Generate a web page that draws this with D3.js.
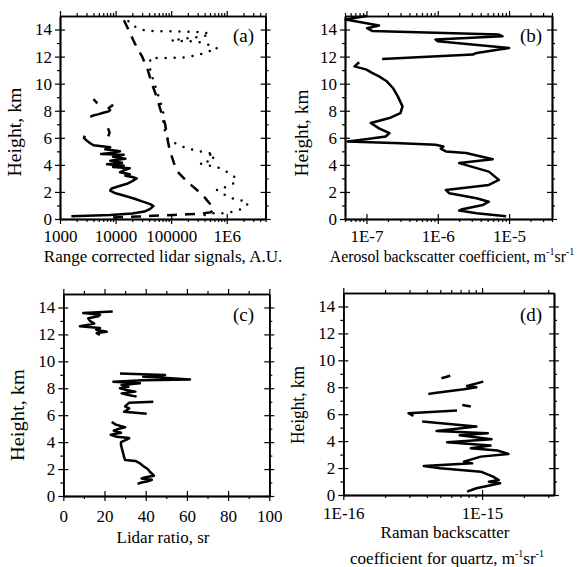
<!DOCTYPE html>
<html>
<head>
<meta charset="utf-8">
<script src="https://cdn.jsdelivr.net/npm/d3@7"></script>
<style>
body { margin: 0; background: #fff; }
svg { font-family: "Liberation Serif", "Times New Roman", serif; }
.frame path.domain { stroke: #000; stroke-width: 1.5; }
.frame .tick line { stroke: #000; stroke-width: 1.2; }
.curve { fill: none; stroke: #000; stroke-width: 2.5; stroke-linejoin: round; }
</style>
</head>
<body>
<svg id="chart" width="579" height="567"></svg>
<script>

// ---- data ----
var heightTicks = [0, 2, 4, 6, 8, 10, 12, 14];
var heightLabels = ["0", "2", "4", "6", "8", "10", "12", "14"];

// (a) range corrected lidar signals, A.U.
var aTicks = [1e3, 1e4, 1e5, 1e6];
var aTickLabels = ["1000", "10000", "100000", "1E6"];
var aSolidH = [0.2, 0.3, 0.4, 0.55, 0.75, 0.95, 1.1, 1.3, 1.5, 1.7, 1.9, 2.1, 2.25, 2.4, 2.6, 2.8, 3.0, 3.1, 3.2, 3.3, 3.45, 3.6, 3.75, 3.85, 3.95, 4.05, 4.15, 4.3, 4.45, 4.6, 4.75, 4.8, 4.9, 5.0, 5.15, 5.3, 5.45, 5.6, 5.8, 6.0, 6.15,
  6.15, 6.1, 6.4, 6.7,
  6.7, 7.55, 7.65, 7.75, 7.85, 7.95, 8.05, 8.2, 8.35, 8.45,
  8.45, 8.55, 8.85];
var aSolidV = [1600, 8000, 20000, 33000, 42000, 48000, 42000, 30000, 22000, 15000, 10000, 8000, 8500, 11000, 16000, 20000, 24000, 20000, 15000, 18000, 12000, 14000, 18000, 9000, 14000, 7000, 13000, 8000, 15000, 9000, 14000, 5500, 9000, 12000, 6500, 8000, 4000, 3500, 3000, 2700, 2800,
  null, 7400, 7800, 7300,
  null, 3500, 4000, 5000, 6000, 7500, 8000, 7500, 8500, 9000,
  null, 4700, 4000];
var aDashH = [0.12, 0.18, 0.25, 0.3, 0.35, 0.4, 0.5, 0.7, 0.9, 1.2, 1.6, 2.0, 2.5, 3.0, 3.5, 4.0, 4.5, 5.0, 6.0, 7.0, 8.0, 9.0, 10.0, 11.0, 12.0, 13.0, 14.0, 15.0];
var aDashV = [9000, 25000, 60000, 110000, 200000, 350000, 520000, 580000, 560000, 480000, 400000, 320000, 230000, 170000, 130000, 115000, 105000, 95000, 85000, 78000, 65000, 55000, 45000, 38000, 30000, 22000, 17000, 13000];
var aDotH = [0.3, 0.42, 0.42, 0.47, 0.6, 0.8, 1.16, 1.4, 1.53, 1.78, 2.15, 2.4, 2.64, 3.0, 3.4, 3.8, 4.1, 4.3, 4.5, 4.7, 4.8, 5.0, 5.2, 5.5, 5.8, 6.0, 7.0, 8.0, 9.0, 10.0, 11.0, 11.9, 11.9, 11.95, 12.2, 12.6, 12.9, 13.1, 13.2, 13.4, 13.6, 13.8, 13.87, 13.9, 14.3, 15.0];
var aDotV = [400000, 540000, 760000, 1.07e6, 1.5e6, 2.0e6, 2.45e6, 1.74e6, 1.23e6, 930000, 660000, 1.0e6, 1.32e6, 1.5e6, 1.1e6, 700000, 330000, 500000, 600000, 450000, 600000, 330000, 200000, 130000, 95000, 83000, 72000, 72000, 60000, 50000, 42000, 42000, 100000, 190000, 350000, 680000, 450000, 300000, 100000, 250000, 500000, 400000, 100000, 35000, 20000, 14000];

// (b) aerosol backscatter coefficient, 1/(m sr)
var bTicks = [1e-7, 1e-6, 1e-5];
var bTickLabels = ["1E-7", "1E-6", "1E-5"];
var bH = [0.2, 0.42, 0.62, 0.72, 1.04, 1.28, 1.53, 1.9, 2.15, 2.52, 2.89, 3.5, 4.13, 4.42, 4.87, 4.99, 5.2, 5.36, 5.48, 5.6, 5.73, 5.9, 6.1, 6.35, 6.7, 7.09, 7.46, 7.83, 8.32, 9.06, 9.68, 10.2, 10.54, 10.8, 11.04, 11.28, 11.58,
  11.7, 11.83, 12.15, 12.27, 12.64, 13.13, 13.26, 13.5, 13.63, 13.9, 14.1, 14.3, 14.74, 15.0];
var bV = [9.1e-6, 3.5e-6, 2.0e-6, 2.2e-6, 4.3e-6, 5.2e-6, 3.5e-6, 1.45e-6, 1.3e-6, 5.2e-6, 7.2e-6, 5.2e-6, 2.0e-6, 5.9e-6, 2.5e-6, 1.3e-6, 1.1e-6, 1.2e-6, 9.3e-7, 3e-7, 5.4e-8, 9.8e-8, 1.86e-7, 2.1e-7, 1.5e-7, 1.15e-7, 2.1e-7, 3.0e-7, 3.2e-7, 2.75e-7, 2.35e-7, 1.9e-7, 1.5e-7, 1.2e-7, 1.0e-7, 6.8e-8, 7.9e-8,
  null, 1.66e-7, 3.1e-6, 3.5e-6, 1.0e-5, 1.0e-6, 9.3e-7, 8.1e-6, 7.2e-6, 1.2e-7, 1.02e-7, 1.5e-7, 5.1e-8, 1.0e-7];

// (c) lidar ratio, sr
var cTicks = [0, 20, 40, 60, 80, 100];
var cTickLabels = ["0", "20", "40", "60", "80", "100"];
var cH = [0.9, 1.0, 1.1, 1.2, 1.3, 1.4, 1.5, 1.6, 1.8, 2.0, 2.2, 2.45, 2.6, 2.67, 2.9, 3.2, 3.5, 3.8, 4.0, 4.2, 4.3, 4.4, 4.55, 4.7, 4.85, 5.0, 5.1, 5.3, 5.5,
  5.8, 6.1, 6.25, 6.5, 6.65, 6.93, 7.0,
  7.2, 7.38, 7.5, 7.62, 7.75, 7.87, 8.0, 8.12, 8.24, 8.37, 8.49, 8.6, 8.66, 8.79, 8.86, 8.98, 9.1,
  10.5, 11.97, 12.1, 12.2, 12.35, 12.47, 12.6, 12.8, 13.0, 13.2, 13.35, 13.46, 13.58, 13.7];
var cV = [36, 38, 41, 43, 38, 40, 44, 43.5, 42, 41, 39, 37, 35, 30, 29.5, 29, 28.5, 28, 28, 31, 32, 26, 23, 28, 24.5, 27, 30, 25.5, 23.5,
  null, 40.5, 29.5, 32, 30, 32, 43.7,
  null, 35.6, 31.6, 28.3, 35, 30.7, 27.5, 31.6, 28.3, 37.2, 24.3, 38.8, 61.5, 48.5, 38.8, 49.4, 27.5,
  null, 17.8, 16.2, 21.1, 16, 17.8, 8.1, 15, 13, 12.1, 17, 17.8, 9.7, 24];

// (d) Raman backscatter coefficient for quartz, 1/(m sr)
var dTicks = [1e-16, 1e-15];
var dTickLabels = ["1E-16", "1E-15"];
var dH = [0.25, 0.5, 0.87, 0.99, 1.11, 1.36, 1.73, 1.98, 2.16, 2.35, 2.48, 2.85, 3.05, 3.3, 3.47, 3.67, 3.91, 4.14, 4.43, 4.58, 4.76, 5.08, 5.45,
  5.6, 5.87, 6.07, 6.27,
  6.4, 6.57, 6.69,
  7.1, 7.5, 7.6, 7.85, 8.0, 8.1, 8.42,
  8.55, 8.67, 8.85];
var dV = [7.8e-16, 9.1e-16, 1.35e-15, 1.12e-15, 1.32e-15, 1.2e-15, 9.8e-16, 5.0e-16, 3.8e-16, 8.5e-16, 7.4e-16, 9.8e-16, 1.55e-15, 1.29e-15, 8.3e-16, 1.15e-15, 5.6e-16, 1.17e-15, 6.9e-16, 1.1e-15, 4.7e-16, 9.1e-16, 3.7e-16,
  null, 3.2e-16, 2.95e-16, 6.6e-16,
  null, 8.3e-16, 7.2e-16,
  null, 4.1e-16, 4.7e-16, 7.4e-16, 9.1e-16, 7.8e-16, 1.02e-15,
  null, 5.1e-16, 5.9e-16];

// ---- scales ----
var svg = d3.select("#chart");

var xa = d3.scaleLog().domain([1e3, 5e6]).range([60, 265.6]);
var ya = d3.scaleLinear().domain([0, 15]).range([219, 16]);
var xb = d3.scaleLog().domain([5e-8, 4e-5]).range([345, 552]);
var yb = d3.scaleLinear().domain([0, 15]).range([219, 16]);
var xc = d3.scaleLinear().domain([0, 100]).range([63.3, 269.3]);
var yc = d3.scaleLinear().domain([0, 15]).range([496, 294]);
var xd = d3.scaleLog().domain([1e-16, 3.3e-15]).range([343.3, 554]);
var yd = d3.scaleLinear().domain([0, 15]).range([495, 293]);

function minorLog(domain) {
  var out = [];
  var lo = Math.floor(Math.log10(domain[0])), hi = Math.ceil(Math.log10(domain[1]));
  for (var e = lo; e <= hi; e++) {
    for (var k = 2; k <= 9; k++) {
      var v = k * Math.pow(10, e);
      if (v >= domain[0] * 0.999 && v <= domain[1] * 1.001) out.push(v);
    }
  }
  return out;
}
var yMinor = [1, 3, 5, 7, 9, 11, 13];

function frame(x, y, xt, xlab, xminor, pad) {
  var x0 = x.range()[0], x1 = x.range()[1], y0 = y.range()[0], y1 = y.range()[1];
  var g = svg.append("g").attr("class", "frame");
  function put(axis, tx, ty) {
    return g.append("g").attr("transform", "translate(" + tx + "," + ty + ")").call(axis);
  }
  // labelled axes
  put(d3.axisBottom(x).tickValues(xt).tickFormat(function(d, i) { return xlab[i]; })
    .tickSizeInner(5).tickSizeOuter(0).tickPadding(pad), 0, y0);
  put(d3.axisLeft(y).tickValues(heightTicks).tickFormat(function(d, i) { return heightLabels[i]; })
    .tickSizeInner(5).tickSizeOuter(0).tickPadding(3), x0, 0);
  // major ticks crossing into the box
  put(d3.axisBottom(x).tickValues(xt).tickSize(-5).tickSizeOuter(0).tickFormat(""), 0, y0);
  put(d3.axisLeft(y).tickValues(heightTicks).tickSize(-5).tickSizeOuter(0).tickFormat(""), x0, 0);
  // minor ticks
  put(d3.axisBottom(x).tickValues(xminor).tickSize(3).tickSizeOuter(0).tickFormat(""), 0, y0);
  put(d3.axisLeft(y).tickValues(yMinor).tickSize(3).tickSizeOuter(0).tickFormat(""), x0, 0);
  // top and right sides
  put(d3.axisTop(x).tickValues(xt).tickSize(5).tickSizeOuter(0).tickFormat(""), 0, y1);
  put(d3.axisTop(x).tickValues(xminor).tickSize(3).tickSizeOuter(0).tickFormat(""), 0, y1);
  put(d3.axisRight(y).tickValues(heightTicks).tickSize(5).tickSizeOuter(0).tickFormat(""), x1, 0);
  put(d3.axisRight(y).tickValues(heightTicks).tickSize(-5).tickSizeOuter(0).tickFormat(""), x1, 0);
  put(d3.axisRight(y).tickValues(yMinor).tickSize(3).tickSizeOuter(0).tickFormat(""), x1, 0);

  g.selectAll("g").attr("font-family", null).attr("font-size", null);
  g.selectAll("text").attr("font-size", 17).attr("fill", "#000");
}

function curve(x, y, hs, vs, dash) {
  var pts = hs.map(function(h, i) { return [vs[i], h]; });
  var line = d3.line()
    .defined(function(d) { return d[0] != null; })
    .x(function(d) { return x(d[0]); })
    .y(function(d) { return y(d[1]); });
  var p = svg.append("path").datum(pts).attr("class", "curve").attr("d", line);
  if (dash == "dash") p.attr("stroke-dasharray", "10,8");
  if (dash == "dot") p.attr("stroke-dasharray", "0,9").attr("stroke-linecap", "round");
  return p;
}

function yTitle(x, y, len) {
  svg.append("text")
    .attr("transform", "translate(" + x + "," + y + ") rotate(-90)")
    .attr("text-anchor", "middle")
    .attr("font-size", 18)
    .attr("textLength", len)
    .attr("lengthAdjust", "spacingAndGlyphs")
    .text("Height, km");
}

function tag(x, y, s) {
  svg.append("text").attr("x", x).attr("y", y).attr("font-size", 19).text(s);
}

// unit with superscripts: m^-1 sr^-1
function unitTitle(x, y, pre, size) {
  var t = svg.append("text").attr("x", x).attr("y", y).attr("text-anchor", "middle").attr("font-size", size);
  t.append("tspan").text(pre + "m");
  t.append("tspan").attr("dy", -7).attr("font-size", 10).text("-1");
  t.append("tspan").attr("dy", 7).text("sr");
  t.append("tspan").attr("dy", -7).attr("font-size", 10).text("-1");
}

// ---- panel (a) ----
frame(xa, ya, aTicks, aTickLabels, minorLog(xa.domain()), 6);
curve(xa, ya, aDotH, aDotV, "dot");
curve(xa, ya, aDashH, aDashV, "dash");
curve(xa, ya, aSolidH, aSolidV);
yTitle(21, 132, 89);
tag(233, 42, "(a)");
svg.append("text").attr("x", 163).attr("y", 262).attr("text-anchor", "middle").attr("font-size", 17)
  .text("Range corrected lidar signals, A.U.");

// ---- panel (b) ----
frame(xb, yb, bTicks, bTickLabels, minorLog(xb.domain()), 6);
curve(xb, yb, bH, bV);
yTitle(308, 133, 87);
tag(520, 42, "(b)");
unitTitle(452, 262, "Aerosol backscatter coefficient, ", 15.8);

// ---- panel (c) ----
frame(xc, yc, cTicks, cTickLabels, [10, 30, 50, 70, 90], 9);
curve(xc, yc, cH, cV);
yTitle(24, 415, 92);
tag(233, 321, "(c)");
svg.append("text").attr("x", 163).attr("y", 543).attr("text-anchor", "middle").attr("font-size", 17)
  .text("Lidar ratio, sr");

// ---- panel (d) ----
frame(xd, yd, dTicks, dTickLabels, minorLog(xd.domain()), 7);
curve(xd, yd, dH, dV);
yTitle(304, 405, 78);
tag(520, 321, "(d)");
svg.append("text").attr("x", 445).attr("y", 538).attr("text-anchor", "middle").attr("font-size", 17)
  .text("Raman backscatter");
unitTitle(447, 564, "coefficient for quartz, ", 17);

</script>
</body>
</html>
